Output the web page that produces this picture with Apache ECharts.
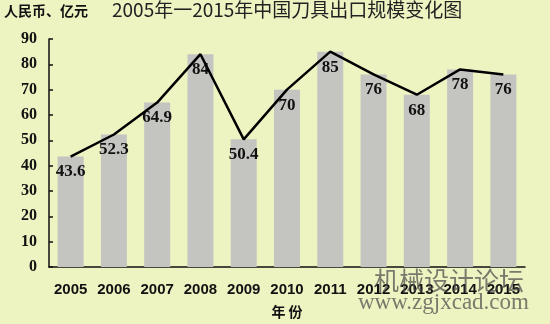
<!DOCTYPE html>
<html>
<head>
<meta charset="utf-8">
<script src="https://cdn.jsdelivr.net/npm/echarts@6/dist/echarts.min.js"></script>
<style>
html,body{margin:0;padding:0;background:#eef3c2;}
#c{width:550px;height:324px;}
</style>
</head>
<body>
<div id="c"></div>
<script>
var years = ['2005','2006','2007','2008','2009','2010','2011','2012','2013','2014','2015'];
var exportValues = [43.6, 52.3, 64.9, 84, 50.4, 70, 85, 76, 68, 78, 76];
var yTicks = [0, 10, 20, 30, 40, 50, 60, 70, 80, 90];

var chart = echarts.init(document.getElementById('c'), null, {renderer: 'canvas'});
chart.setOption({
  backgroundColor: '#eef3c2',
  animation: false,
  grid: {left: 49, right: 25, top: 39, bottom: 57, containLabel: false},
  graphic: [
    {type: 'text', left: 4, top: 4, style: {text: '人民币、亿元', font: 'bold 14px "Noto Sans CJK SC"', fill: '#111'}},
    {type: 'text', left: 112, top: 0, style: {text: '2005年一2015年中国刀具出口规模变化图', font: '19px "Noto Sans CJK SC"', fill: '#222'}},
    {type: 'text', left: 374, top: 268, z: 100, style: {text: '机械设计论坛', font: '25px "Noto Sans CJK SC"', fill: 'rgba(70,70,70,0.7)'}},
    {type: 'text', left: 358, top: 291, z: 100, style: {text: 'www.zgjxcad.com', font: '23px "Liberation Serif"', fill: 'rgba(70,70,70,0.7)'}}
  ],
  xAxis: {
    type: 'category',
    data: years,
    name: '年 份',
    nameLocation: 'middle',
    nameGap: 38,
    nameTextStyle: {fontFamily: '"Noto Sans CJK SC"', fontWeight: 'bold', fontSize: 14, color: '#111'},
    axisLine: {lineStyle: {color: '#111', width: 1.5}},
    axisTick: {inside: true, length: 5, lineStyle: {color: '#111', width: 1.5}},
    axisLabel: {interval: 0, hideOverlap: false, margin: 15, fontFamily: '"Liberation Sans"', fontWeight: 'bold', fontSize: 15, color: '#111'}
  },
  yAxis: {
    type: 'value',
    min: yTicks[0],
    max: yTicks[yTicks.length - 1],
    interval: 10,
    axisLine: {show: true, lineStyle: {color: '#111', width: 1.5}},
    axisTick: {show: true, inside: true, length: 4, lineStyle: {color: '#111', width: 1.5}},
    splitLine: {show: false},
    axisLabel: {margin: 12, fontFamily: '"Liberation Serif"', fontWeight: 'bold', fontSize: 16, color: '#111'}
  },
  series: [
    {
      type: 'bar',
      data: exportValues,
      barWidth: '60%',
      itemStyle: {color: '#c4c4c0'},
      label: {show: true, position: 'insideTop', distance: 7, fontFamily: '"Liberation Serif"', fontWeight: 'bold', fontSize: 17, color: '#111'}
    },
    {
      type: 'line',
      data: exportValues,
      symbol: 'none',
      lineStyle: {color: '#000', width: 2.5},
      z: 5
    }
  ]
});
</script>
</body>
</html>
